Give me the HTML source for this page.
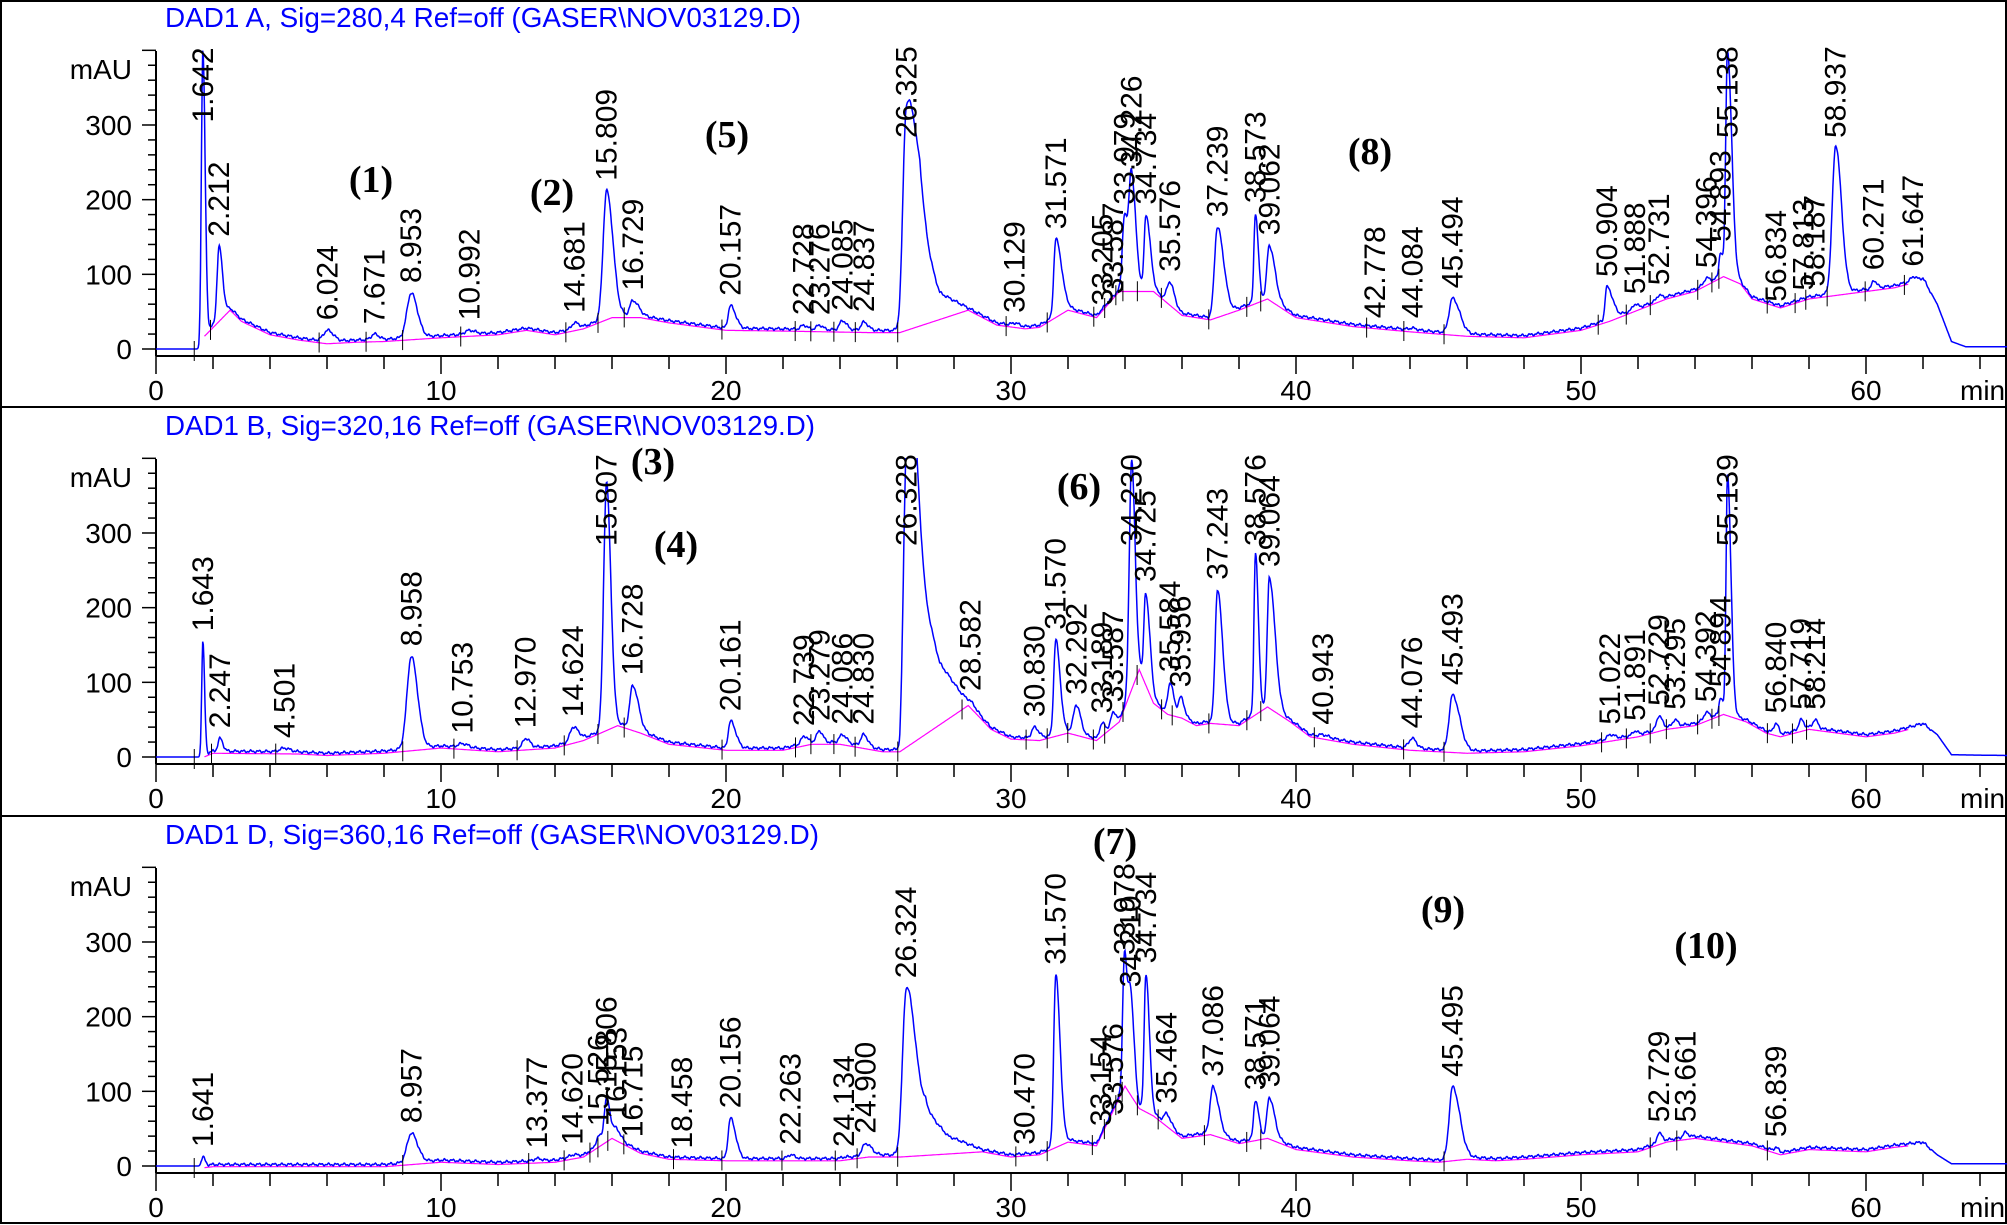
<!DOCTYPE html>
<html><head><meta charset="utf-8">
<style>
html,body{margin:0;padding:0;background:#fff;}
svg{display:block;}
text{font-family:"Liberation Sans",Arial,sans-serif;}
.ann{font-family:"Liberation Serif","Times New Roman",serif;font-weight:bold;font-size:38px;}
</style></head><body>
<svg id="s" width="2007" height="1225" viewBox="0 0 2007 1225" xmlns="http://www.w3.org/2000/svg">
<rect x="1" y="1" width="2005" height="1222" fill="#fff" stroke="#000" stroke-width="2"/>
<line x1="0" y1="407" x2="2007" y2="407" stroke="#000" stroke-width="2"/>
<line x1="0" y1="816" x2="2007" y2="816" stroke="#000" stroke-width="2"/>
<text x="165" y="27" fill="#0000ff" font-size="28" textLength="636" lengthAdjust="spacingAndGlyphs">DAD1 A, Sig=280,4 Ref=off (GASER\NOV03129.D)</text>
<text x="165" y="435" fill="#0000ff" font-size="28" textLength="650" lengthAdjust="spacingAndGlyphs">DAD1 B, Sig=320,16 Ref=off (GASER\NOV03129.D)</text>
<text x="165" y="844" fill="#0000ff" font-size="28" textLength="654" lengthAdjust="spacingAndGlyphs">DAD1 D, Sig=360,16 Ref=off (GASER\NOV03129.D)</text>
<text class="ann" x="371" y="192" text-anchor="middle">(1)</text>
<text class="ann" x="552" y="205" text-anchor="middle">(2)</text>
<text class="ann" x="727" y="147" text-anchor="middle">(5)</text>
<text class="ann" x="1370" y="164" text-anchor="middle">(8)</text>
<text class="ann" x="653" y="474" text-anchor="middle">(3)</text>
<text class="ann" x="676" y="557" text-anchor="middle">(4)</text>
<text class="ann" x="1079" y="499" text-anchor="middle">(6)</text>
<text class="ann" x="1115" y="854" text-anchor="middle">(7)</text>
<text class="ann" x="1443" y="922" text-anchor="middle">(9)</text>
<text class="ann" x="1706" y="958" text-anchor="middle">(10)</text>
<g id="g"></g>
</svg>
<script>
(function(){
var X=function(t){return 156+t*28.5;};
var panels=[
{off:0,skip:[26.8,27.5],
base:[[0,0],[1.5,0],[1.7,20],[2.6,55],[3,40],[4,22],[5,15],[6,10],[7,12],[8,13],[10,18],[12,22],[13,28],[14,22],[15,30],[16,45],[17,45],[18,38],[20,28],[22,27],[25,25],[26.1,25],[26.8,150],[27.5,75],[28.5,55],[29.5,35],[30.5,30],[31,32],[32,55],[33,45],[33.8,80],[35,80],[36,48],[37,42],[38,55],[39,70],[40,45],[42,33],[44,26],[46,20],[48,18],[50,28],[51,40],[52,55],[53,70],[54,80],[55,100],[55.6,90],[56,70],[57,58],[58,70],[60,80],[61,85],[62,95],[62.5,60],[63,10],[63.5,3],[65,3]],
pk:[[1.642,400,"1.642",.05,.08],[2.212,137,"2.212",.07,.12],[6.024,25,"6.024",.15,.2],[7.671,20,"7.671",.12,.15],[8.953,75,"8.953",.15,.22],[10.992,25,"10.992",.15,.2],[14.681,35,"14.681",.1,.15],[15.809,212,"15.809",.12,.22],[16.729,65,"16.729",.1,.2],[20.157,58,"20.157",.08,.18],[22.728,32,"22.728",.1,.12],[23.276,32,"23.276",.1,.12],[24.085,38,"24.085",.1,.15],[24.837,36,"24.837",.1,.15],[26.325,325,"26.325",.12,.35],[30.129,35,"30.129",.1,.15],[31.571,147,"31.571",.07,.2],[33.205,45,"33.205",.08,.1],[33.587,60,"33.587",.08,.1],[33.979,180,"33.979",.07,.12],[34.226,230,"34.226",.08,.15],[34.734,180,"34.734",.06,.15],[35.576,90,"35.576",.1,.15],[37.239,163,"37.239",.1,.22],[38.573,182,"38.573",.05,.1],[39.062,139,"39.062",.08,.2],[42.778,28,"42.778",.12,.15],[44.084,28,"44.084",.12,.15],[45.494,68,"45.494",.12,.25],[50.904,83,"50.904",.06,.2],[51.888,60,"51.888",.08,.1],[52.731,72,"52.731",.08,.1],[54.396,95,"54.396",.08,.1],[54.893,130,"54.893",.05,.08],[55.138,400,"55.138",.06,.15],[56.834,50,"56.834",.08,.1],[57.813,65,"57.813",.08,.1],[58.187,70,"58.187",.08,.1],[58.937,273,"58.937",.12,.2],[60.271,92,"60.271",.06,.1],[61.647,97,"61.647",.08,.1]]},
{off:408,skip:[26.6,27,27.5],
base:[[0,0],[1.5,0],[2,8],[5,7],[6,5],[8,8],[10,15],[12,10],[14,15],[15,25],[16.2,45],[17,35],[18,20],[20,12],[22,12],[23,20],[24,20],[25.5,10],[26.1,10],[26.6,300],[27,200],[27.5,126],[28.5,72],[29.3,40],[30,27],[31,25],[32,35],[33,25],[33.8,50],[34.5,120],[35,75],[35.5,60],[36,55],[36.5,45],[37,48],[38,45],[38.6,60],[39,70],[39.8,50],[40.5,30],[42,20],[44,12],[46,8],[48,10],[50,18],[52,30],[53,40],[54,45],[55,60],[55.8,50],[56.5,35],[57,30],[58,40],[60,30],[61,35],[62,45],[62.5,30],[63,3],[65,2]],
pk:[[1.643,155,"1.643",.04,.06],[2.247,25,"2.247",.07,.1],[4.501,12,"4.501",.15,.2],[8.958,135,"8.958",.15,.22],[10.753,18,"10.753",.15,.2],[12.970,25,"12.970",.1,.15],[14.624,40,"14.624",.1,.2],[15.807,367,"15.807",.1,.15],[16.728,96,"16.728",.1,.2],[20.161,48,"20.161",.08,.18],[22.739,28,"22.739",.1,.12],[23.279,35,"23.279",.1,.12],[24.086,30,"24.086",.1,.15],[24.830,30,"24.830",.1,.15],[26.328,420,"26.328",.1,.3],[28.582,75,"28.582",.15,.2],[30.830,40,"30.830",.1,.15],[31.570,157,"31.570",.07,.15],[32.292,70,"32.292",.1,.15],[33.189,45,"33.189",.08,.1],[33.587,60,"33.587",.08,.1],[34.230,398,"34.230",.08,.12],[34.725,221,"34.725",.06,.15],[35.584,100,"35.584",.08,.12],[35.956,80,"35.956",.08,.12],[37.243,224,"37.243",.08,.18],[38.576,275,"38.576",.05,.1],[39.064,241,"39.064",.07,.2],[40.943,30,"40.943",.12,.2],[44.076,25,"44.076",.12,.15],[45.493,83,"45.493",.12,.25],[51.022,30,"51.022",.1,.15],[51.891,35,"51.891",.08,.1],[52.729,55,"52.729",.08,.12],[53.295,50,"53.295",.08,.1],[54.392,60,"54.392",.08,.1],[54.894,80,"54.894",.05,.08],[55.139,380,"55.139",.05,.12],[56.840,45,"56.840",.08,.1],[57.719,50,"57.719",.08,.1],[58.214,50,"58.214",.08,.1]]},
{off:817,skip:[27,27.8],
base:[[0,0],[1.5,0],[2,2],[8,2],[10,8],[12,5],[14,8],[15,15],[16,40],[17,20],[18,12],[20,10],[22,10],[24,10],[25,15],[26.1,15],[27,75],[27.8,40],[29,22],[30,15],[31,18],[32,35],[33,30],[34,110],[34.5,80],[35,70],[36,40],[37,45],[38,33],[39,40],[40,25],[42,15],[44,10],[45,8],[46,12],[47,10],[48,12],[50,18],[52,22],[53,35],[54,40],[56,30],[57,18],[58,25],[60,22],[61,28],[62,32],[62.5,15],[63,3],[65,3]],
pk:[[1.641,12,"1.641",.05,.08],[8.957,44,"8.957",.15,.22],[13.377,10,"13.377",.12,.15],[14.620,15,"14.620",.12,.15],[15.526,40,"15.526",.08,.1],[15.806,91,"15.806",.08,.12],[16.153,50,"16.153",.1,.15],[16.715,25,"16.715",.1,.15],[18.458,10,"18.458",.1,.15],[20.156,64,"20.156",.08,.18],[22.263,15,"22.263",.1,.15],[24.134,12,"24.134",.1,.15],[24.900,30,"24.900",.12,.2],[26.324,238,"26.324",.13,.3],[30.470,15,"30.470",.1,.12],[31.570,256,"31.570",.07,.15],[33.154,40,"33.154",.08,.1],[33.576,55,"33.576",.08,.1],[33.978,285,"33.978",.06,.1],[34.2,226,"34.210",.08,.12],[34.734,258,"34.734",.06,.12],[35.464,70,"35.464",.1,.15],[37.086,106,"37.086",.1,.2],[38.571,88,"38.571",.06,.12],[39.064,92,"39.064",.08,.18],[45.495,106,"45.495",.12,.25],[52.729,45,"52.729",.06,.1],[53.661,45,"53.661",.08,.1],[56.839,25,"56.839",.06,.1]]}
];
function interp(b,t){for(var i=1;i<b.length;i++){if(t<=b[i][0]){var a=b[i-1],c=b[i];return a[1]+(c[1]-a[1])*(t-a[0])/(c[0]-a[0]);}}return b[b.length-1][1];}
var out="";
panels.forEach(function(p,pi){
 var o=p.off, Y=function(v){return o+349-v*0.7467;};
 var mag=p.base.filter(function(q){return p.skip.indexOf(q[0])<0;});
 out+='<clipPath id="c'+pi+'"><rect x="156" y="'+(o+50)+'" width="1851" height="310"/></clipPath>';
 out+='<line x1="156" y1="'+(o+51)+'" x2="156" y2="'+(o+356)+'" stroke="#000" stroke-width="2"/>';
 out+='<line x1="156" y1="'+(o+356)+'" x2="2007" y2="'+(o+356)+'" stroke="#000" stroke-width="2"/>';
 for(var v=0;v<=400;v+=20){var yy=Y(v);var L=(v%100==0)?14:8;out+='<line x1="'+(156-L)+'" y1="'+yy+'" x2="156" y2="'+yy+'" stroke="#000" stroke-width="1.5"/>';}
 [0,100,200,300].forEach(function(v){out+='<text x="132" y="'+(Y(v)+10)+'" font-size="28" text-anchor="end">'+v+'</text>';});
 out+='<text x="132" y="'+(o+79)+'" font-size="28" text-anchor="end">mAU</text>';
 for(var t=0;t<=66;t+=2){var xx=X(t);if(xx>2006)break;var L2=(t%10==0)?18:13;out+='<line x1="'+xx+'" y1="'+(o+356)+'" x2="'+xx+'" y2="'+(o+356+L2)+'" stroke="#000" stroke-width="1.5"/>';}
 for(var t=0;t<=60;t+=10){out+='<text x="'+X(t)+'" y="'+(o+400)+'" font-size="28" text-anchor="middle">'+t+'</text>';}
 out+='<text x="1960" y="'+(o+400)+'" font-size="28">min</text>';
 var pts=[],bpts=[];
 for(var t=0;t<=65;t+=0.02){
  var v=interp(p.base,t);
  p.pk.forEach(function(k){var h=k[1]-interp(p.base,k[0]);if(h<0)h=0;var d=t-k[0];var s=d<0?k[3]:k[4];if(Math.abs(d)<6*s)v+=h*Math.exp(-0.5*d*d/(s*s));});
  if(t>1.6&&t<62.3)v+=1.2*Math.sin(t*23.1)+0.8*Math.sin(t*57.3);
  pts.push(X(t).toFixed(1)+','+Y(v).toFixed(1));
  if(t>1.7&&t<61.5)bpts.push(X(t).toFixed(1)+','+Y(interp(mag,t)-3).toFixed(1));
 }
 out+='<polyline points="'+bpts.join(' ')+'" fill="none" stroke="#ff00ff" stroke-width="1.2"/>';
 out+='<polyline clip-path="url(#c'+pi+')" points="'+pts.join(' ')+'" fill="none" stroke="#0000ff" stroke-width="1.5"/>';
 p.pk.forEach(function(k){
  var len=k[2].length*15.5-6;
  var top=Y(Math.min(k[1],400));
  var bot=Math.max(top-10,o+51+len);
  var x=X(k[0])+10;
  out+='<text font-size="30" transform="translate('+x.toFixed(1)+','+bot.toFixed(1)+') rotate(-90)">'+k[2]+'</text>';
  var bx=k[0]-0.3, by=Y(interp(mag,bx));
  out+='<line x1="'+X(bx)+'" y1="'+(by-8)+'" x2="'+X(bx)+'" y2="'+(by+12)+'" stroke="#000" stroke-width="1"/>';
 });
});
document.getElementById('g').innerHTML=out;
})();
</script>
</body></html>
